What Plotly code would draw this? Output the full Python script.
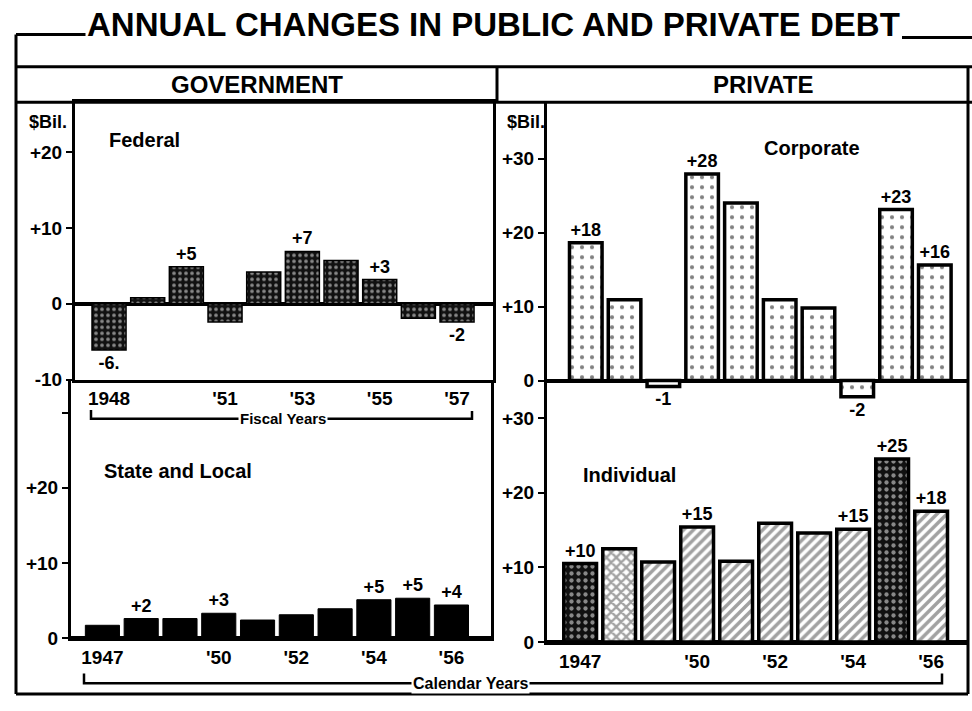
import plotly.graph_objects as go

W, H = 972, 711
FONT = "Liberation Sans"

# ---------------- data ----------------
fed_years = [1948, 1949, 1950, 1951, 1952, 1953, 1954, 1955, 1956, 1957]
fed_vals = [-6.1, 0.8, 4.9, -2.4, 4.2, 6.9, 5.7, 3.2, -1.9, -2.4]
fed_text = ["-6.", "", "+5", "", "", "+7", "", "+3", "", "-2"]
fed_ticks = [1948, 1951, 1953, 1955, 1957]
fed_ticktext = ["1948", "'51", "'53", "'55", "'57"]

cal_years = [1947, 1948, 1949, 1950, 1951, 1952, 1953, 1954, 1955, 1956]
cal_ticks = [1947, 1950, 1952, 1954, 1956]
cal_ticktext = ["1947", "'50", "'52", "'54", "'56"]

state_vals = [1.7, 2.6, 2.6, 3.3, 2.4, 3.1, 3.9, 5.1, 5.3, 4.4]
state_text = ["", "+2", "", "+3", "", "", "", "+5", "+5", "+4"]

corp_vals = [18.6, 10.9, -0.8, 27.9, 24.0, 10.9, 9.8, -2.2, 23.1, 15.6]
corp_text = ["+18", "", "-1", "+28", "", "", "", "-2", "+23", "+16"]

indiv_vals = [10.5, 12.5, 10.7, 15.4, 10.8, 15.9, 14.6, 15.1, 24.5, 17.5]
indiv_text = ["+10", "", "", "+15", "", "", "", "+15", "+25", "+18"]
indiv_shape = [".", "x", "/", "/", "/", "/", "/", "/", ".", "/"]
indiv_bg = ["#111111", "white", "white", "white", "white", "white", "white", "white", "#111111", "white"]
indiv_fg = ["white", "black", "black", "black", "black", "black", "black", "black", "white", "black"]
indiv_solid = [0.3, 0.55, 0.5, 0.5, 0.5, 0.5, 0.5, 0.5, 0.3, 0.5]


def px(x):
    return x / W


def py(y):
    return 1 - y / H


fig = go.Figure()

lab_font = dict(family=FONT, size=18, color="black", weight="bold")

fig.add_trace(go.Bar(
    x=fed_years, y=fed_vals, text=fed_text, textposition="outside",
    textfont=lab_font, constraintext="none", cliponaxis=False, width=0.88,
    marker=dict(color="#111111", line=dict(color="black", width=1.5),
                pattern=dict(shape=".", fgcolor="white", size=6, solidity=0.3,
                             fillmode="overlay")),
    xaxis="x", yaxis="y", showlegend=False))

fig.add_trace(go.Bar(
    x=cal_years, y=state_vals, text=state_text, textposition="outside",
    textfont=lab_font, constraintext="none", cliponaxis=False, width=0.88,
    marker=dict(color="black", line=dict(color="black", width=1)),
    xaxis="x2", yaxis="y2", showlegend=False))

fig.add_trace(go.Bar(
    x=cal_years, y=corp_vals, text=corp_text, textposition="outside",
    textfont=lab_font, constraintext="none", cliponaxis=False, width=0.84,
    marker=dict(color="white", line=dict(color="black", width=3.5),
                pattern=dict(shape=".", fgcolor="black", size=10, solidity=0.14,
                             fillmode="overlay")),
    xaxis="x3", yaxis="y3", showlegend=False))

fig.add_trace(go.Bar(
    x=cal_years, y=indiv_vals, text=indiv_text, textposition="outside",
    textfont=lab_font, constraintext="none", cliponaxis=False, width=0.84,
    marker=dict(color=indiv_bg, line=dict(color="black", width=3.5),
                pattern=dict(shape=indiv_shape, fgcolor=indiv_fg, size=7,
                             solidity=indiv_solid, fillmode="overlay")),
    xaxis="x4", yaxis="y4", showlegend=False))

tick_font = dict(family=FONT, size=19, color="black", weight="bold")


def xax(dom, rng, anchor, tv=None, tt=None, show=True, showline=True, mirror=False):
    return dict(domain=[px(dom[0]), px(dom[1])], range=rng, anchor=anchor,
                tickvals=tv if tv else [], ticktext=tt if tt else [],
                showticklabels=show, ticks="", showgrid=False, zeroline=False,
                showline=showline, linecolor="black", linewidth=3, mirror=mirror,
                tickfont=tick_font, fixedrange=True)


def yax(dom, rng, anchor, tv, tt, mirror=True):
    return dict(domain=[py(dom[1]), py(dom[0])], range=rng, anchor=anchor,
                tickvals=tv, ticktext=tt, ticks="outside", ticklen=6, tickwidth=2,
                tickcolor="black", showgrid=False, zeroline=True,
                zerolinecolor="black", zerolinewidth=4, showline=True,
                linecolor="black", linewidth=3, mirror=mirror,
                tickfont=tick_font, fixedrange=True)


fig.update_layout(
    xaxis=xax((75, 493), [1947.12, 1957.93], "y", fed_ticks, fed_ticktext, mirror=True),
    yaxis=yax((103, 385), [-10, 26.6], "x", [-10, 0, 10, 20], ["-10", "0", "+10", "+20"]),
    xaxis2=xax((71, 491), [1946.19, 1957.02], "y2", cal_ticks, cal_ticktext),
    yaxis2=yax((385, 648), [0, 34.4], "x2", [0, 10, 20, 30], ["0", "+10", "+20", ""]),
    xaxis3=xax((547, 967), [1946.0, 1956.83], "y3", show=False, showline=False),
    yaxis3=yax((103, 415), [-3.85, 37.6], "x3", [0, 10, 20, 30], ["0", "+10", "+20", "+30"], mirror=False),
    xaxis4=xax((547, 967), [1946.15, 1956.92], "y4", cal_ticks, cal_ticktext),
    yaxis4=yax((415, 652), [0, 31.2], "x4", [0, 10, 20, 30], ["0", "+10", "+20", "+30"], mirror=False),
)

shapes = []


def line(x0, y0, x1, y1, w=3):
    shapes.append(dict(type="line", xref="paper", yref="paper",
                       x0=px(x0), y0=py(y0), x1=px(x1), y1=py(y1),
                       line=dict(color="black", width=w)))


def path(points, w=2.5):
    d = "M " + " L ".join(f"{px(a):.5f},{py(b):.5f}" for a, b in points)
    shapes.append(dict(type="path", xref="paper", yref="paper", path=d,
                       line=dict(color="black", width=w)))


# outer frame
line(16, 34, 88, 34)
line(16, 34, 16, 705)
line(902, 37, 972, 37)
line(16, 67, 972, 67)
line(16, 103, 972, 103)
line(16, 705, 968, 705)
line(968, 67, 968, 705)
line(497, 67, 497, 103)

# brackets
path([(91, 416), (91, 425), (472, 425), (472, 417)])
path([(84, 684), (84, 694), (942, 694), (942, 684)])
fig.update_layout(shapes=shapes)

ann = []


def text(s, x, y, size, xanchor="center", bg=None):
    d = dict(text=s, x=px(x), y=py(y), xref="paper", yref="paper",
             xanchor=xanchor, yanchor="middle", showarrow=False,
             font=dict(family=FONT, size=size, color="black", weight="bold"))
    if bg:
        d["bgcolor"] = bg
    ann.append(d)


text("ANNUAL CHANGES IN PUBLIC AND PRIVATE DEBT", 493, 24, 33, bg="white")
text("GOVERNMENT", 257, 85, 24)
text("PRIVATE", 763, 85, 24)
text("$Bil.", 48, 123, 18)
text("$Bil.", 526, 123, 18)
text("Federal", 107, 141, 20, xanchor="left")
text("State and Local", 102, 478, 20, xanchor="left")
text("Corporate", 812, 150, 20)
text("Individual", 581, 482, 20, xanchor="left")
text("Fiscal Years", 283, 425, 15, bg="white")
text("Calendar Years", 470, 694, 16, bg="white")

fig.update_layout(
    annotations=ann,
    width=W, height=H,
    margin=dict(l=0, r=0, t=0, b=0),
    paper_bgcolor="white", plot_bgcolor="rgba(0,0,0,0)",
    bargap=0.1,
    font=dict(family=FONT, color="black"),
)

fig.write_html("out.html", config={"displayModeBar": False},
               post_script="document.body.style.margin='0';document.body.style.overflow='hidden';")
